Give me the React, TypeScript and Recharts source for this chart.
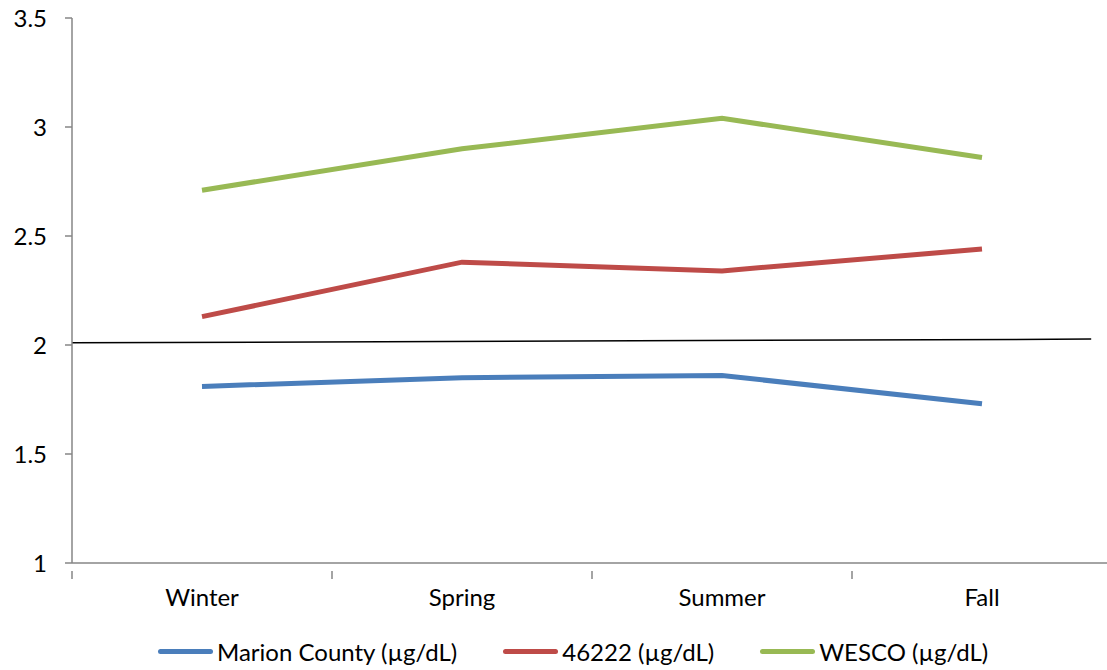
import React from 'react';
import { LineChart, Line, XAxis, YAxis, ReferenceLine, Legend } from 'recharts';

const seasons = ['Winter', 'Spring', 'Summer', 'Fall'];
const marion = [1.81, 1.85, 1.86, 1.73];
const zip46222 = [2.13, 2.38, 2.34, 2.44];
const wesco = [2.71, 2.9, 3.04, 2.86];
const yTicks = [1, 1.5, 2, 2.5, 3, 3.5];
const xTicks = [0, 0.5, 1, 1.5, 2, 2.5, 3, 3.5, 4];
// thin black line across the plot, nearly flat just above 2
const refStart = { x: 0, y: 2.01 };
const refEnd = { x: 3.92, y: 2.027 };

const series = [
  { key: 'marion', name: 'Marion County (µg/dL)', color: '#4A7EBB' },
  { key: 'zip', name: '46222 (µg/dL)', color: '#BE4B48' },
  { key: 'wesco', name: 'WESCO (µg/dL)', color: '#98B954' },
];

const data = seasons.map((s, i) => ({
  x: i + 0.5,
  season: s,
  marion: marion[i],
  zip: zip46222[i],
  wesco: wesco[i],
}));

const FONT = 'Lato, "Open Sans", sans-serif';
const FS = 24;

const XTick = (props: any) => {
  const { x, y, payload } = props;
  const v = payload.value;
  if (Number.isInteger(v)) {
    return <line x1={x} y1={y} x2={x} y2={y + 8} stroke="#868686" strokeWidth={1.5} />;
  }
  const label = seasons[Math.floor(v)];
  return (
    <text x={x} y={y + 35} textAnchor="middle" fontSize={FS} fill="#000" fontFamily={FONT}>
      {label}
    </text>
  );
};

const LegendContent = () => (
  <div style={{ display: 'flex', alignItems: 'center', fontFamily: FONT, fontSize: FS, color: '#000' }}>
    {series.map((s, i) => (
      <div key={s.key} style={{ display: 'flex', alignItems: 'center', marginRight: i < 2 ? 46 : 0 }}>
        <div style={{ width: 55, height: 5, borderRadius: 3, background: s.color, marginRight: 4 }} />
        <span>{s.name}</span>
      </div>
    ))}
  </div>
);

export default function App() {
  return (
    <div style={{ position: 'fixed', left: 0, top: 0, width: 1107, height: 670, overflow: 'hidden', background: '#fff' }}>
      <LineChart width={1120} height={670} data={data} margin={{ top: 18, right: 8, bottom: 47, left: 0 }}>
        <XAxis
          type="number"
          dataKey="x"
          domain={[0, 4]}
          ticks={xTicks}
          interval={0}
          tick={<XTick />}
          tickLine={false}
          axisLine={{ stroke: '#868686', strokeWidth: 1.5 }}
        />
        <YAxis
          domain={[1, 3.5]}
          ticks={yTicks}
          interval={0}
          width={72}
          tickSize={7}
          tickMargin={18}
          tick={{ fontSize: FS, fill: '#000', fontFamily: FONT }}
          tickLine={{ stroke: '#868686', strokeWidth: 1.5 }}
          axisLine={{ stroke: '#868686', strokeWidth: 1.5 }}
        />
        <ReferenceLine
          segment={[refStart, refEnd]}
          stroke="#000"
          strokeWidth={1.5}
          ifOverflow="visible"
        />
        {series.map((s) => (
          <Line
            key={s.key}
            dataKey={s.key}
            name={s.name}
            stroke={s.color}
            strokeWidth={5}
            dot={false}
            activeDot={false}
            isAnimationActive={false}
          />
        ))}
        <Legend
          content={<LegendContent />}
          wrapperStyle={{ position: 'absolute', left: 158, top: 637, width: 900, height: 30 }}
        />
      </LineChart>
    </div>
  );
}
